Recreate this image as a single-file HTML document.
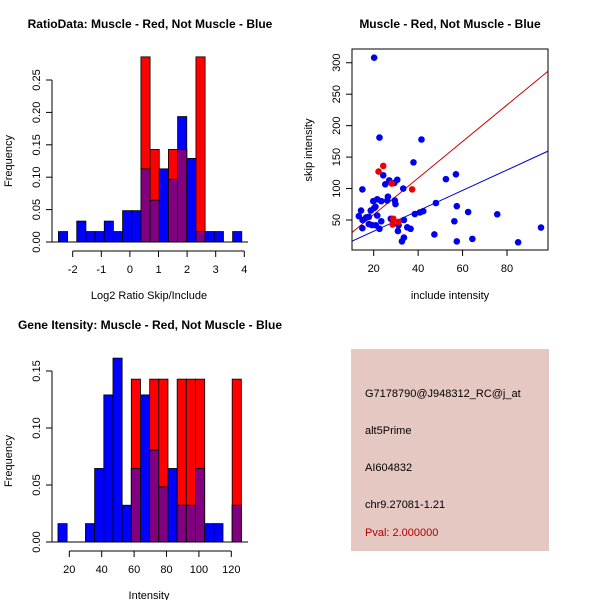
<!DOCTYPE html>
<html><head><meta charset="utf-8"><style>
html,body{margin:0;padding:0;background:#fff;}
svg{display:block;font-family:"Liberation Sans",sans-serif;}
</style></head><body>
<svg id="c" width="600" height="600" xmlns="http://www.w3.org/2000/svg">
<rect width="600" height="600" fill="#fff"/>
<g id="p1"></g>
<g id="p2"></g>
<g id="p3"></g>
<g>
<rect x="351" y="349" width="198" height="202" fill="#e6c8c2"/>
<g font-size="11" fill="#000">
<text x="365" y="397">G7178790@J948312_RC@j_at</text>
<text x="365" y="434">alt5Prime</text>
<text x="365" y="471">AI604832</text>
<text x="365" y="508">chr9.27081-1.21</text>
<text x="365" y="536" fill="#b00000">Pval: 2.000000</text>
</g></g>
</svg>
<script>
// ---- data: ratio histogram ----
const ratioBinStart = -2.5, ratioBinWidth = 0.3206;
const ratioBlue = [1,0,2,1,1,2,1,3,3,7,4,7,6,12,8,1,1,1,0,1].map(c=>c/62);
const ratioRed  = [0,0,0,0,0,0,0,0,0,2,1,0,1,1,0,2,0,0,0,0].map(c=>c/7);
const ratioXTicks = [-2,-1,0,1,2,3,4];
const ratioYTicks = [0,0.05,0.10,0.15,0.20,0.25];
// ---- data: intensity histogram ----
const intBinStart = 13.0, intBinWidth = 5.66;
const intBlue = [1,0,0,1,4,8,10,2,4,8,5,3,4,2,2,4,1,1,0,2].map(c=>c/62);
const intRed  = [0,0,0,0,0,0,0,0,1,0,1,1,0,1,1,1,0,0,0,1].map(c=>c/7);
const intXTicks = [20,40,60,80,100,120];
const intYTicks = [0,0.05,0.10,0.15];
// ---- data: scatter ----
const blueX = [20.2,22.6,41.5,37.9,52.5,57,14.9,24.3,25.2,27,29.3,30.6,33.3,26.4,26.1,23.4,19.8,21.6,29.5,29.8,48,57.4,14.3,20.2,20.8,18.7,13.3,16.6,15,17.8,21.6,38.5,40.8,42.3,62.5,75.6,27.7,33.6,17.8,19.2,21,22.6,23.4,31.2,35.1,36.6,30.9,14.9,56.3,47.3,33.6,32.7,57.4,64.4,85,95.3];
const blueY = [308,181,178,141.6,115,122.6,98.7,121,106.7,113,109,114,100,87,81,80,80,83,81,75.4,77,72,65,69,71,65,56,54,50,55,57,59.5,62,64,62.7,59,52,50,43.6,42,41.5,36,48,41.5,38.3,36,32.5,37,48,27,22,16,16,20,14.5,38];
const redX = [24.3,22.2,37.3,28.1,28.8,28.5,31.2];
const redY = [136,127,98.7,108,52,43,47];
const redFit = [0.45, 2.906];   // intercept, slope
const blueFit = [-0.3, 1.623];
const scXTicks = [20,40,60,80];
const scYTicks = [50,100,150,200,250,300];

const NS="http://www.w3.org/2000/svg";
function mk(parent,tag,attrs,txt){const e=document.createElementNS(NS,tag);for(const k in attrs)e.setAttribute(k,attrs[k]);if(txt!==undefined)e.textContent=txt;parent.appendChild(e);return e;}

function hist(g,o){
  const sx=v=>o.x0+(v-o.xv0)*o.kx, sy=v=>o.y0-v*o.ky;
  for(let i=0;i<o.blue.length;i++){
    const a=o.start+i*o.w, b=a+o.w, bl=o.blue[i], rd=o.red[i];
    const x=sx(a), wpx=sx(b)-sx(a);
    if(bl>0){const r=mk(g,'rect',{x:x,y:sy(bl),width:wpx,height:sy(0)-sy(bl),fill:'#0000ff',stroke:'#000','stroke-width':0.8});
      
      }
    if(rd>0){const r=mk(g,'rect',{x:x,y:sy(rd),width:wpx,height:sy(0)-sy(rd),fill:'#ff0000',stroke:'#000','stroke-width':0.8});
      
      }
    const m=Math.min(bl,rd);
    if(m>0){const r=mk(g,'rect',{x:x,y:sy(m),width:wpx,height:sy(0)-sy(m),fill:'#800080',stroke:'#000','stroke-width':0.8});
      
      }
  }
  mk(g,'line',{x1:52,x2:248,y1:sy(0),y2:sy(0),stroke:'#000','stroke-width':1});
  // y axis
  const ya=mk(g,'g',{});
  
  
  mk(ya,'line',{x1:52,x2:52,y1:sy(o.yt[0]),y2:sy(o.yt[o.yt.length-1]),stroke:'#000'});
  o.yt.forEach(t=>{mk(ya,'line',{x1:46,x2:52,y1:sy(t),y2:sy(t),stroke:'#000'});
    mk(ya,'text',{x:0,y:0,'font-size':11,'text-anchor':'middle',transform:`translate(40,${sy(t)}) rotate(-90)`},t.toFixed(2));});
  const xa=mk(g,'g',{});
  
  
  mk(xa,'line',{x1:sx(o.xt[0]),x2:sx(o.xt[o.xt.length-1]),y1:o.xaxY,y2:o.xaxY,stroke:'#000'});
  o.xt.forEach(t=>{mk(xa,'line',{x1:sx(t),x2:sx(t),y1:o.xaxY,y2:o.xaxY+6,stroke:'#000'});
    mk(xa,'text',{x:sx(t),y:o.xaxY+22,'font-size':11,'text-anchor':'middle'},String(t));});
  const tt=mk(g,'text',{x:150,y:o.titleY,'font-size':12,'font-weight':'bold','text-anchor':'middle'},o.title);
  
  
  const xl=mk(g,'text',{x:149,y:o.xlabY,'font-size':11,'text-anchor':'middle'},o.xlab);
  
  
  const yl=mk(g,'text',{x:0,y:0,'font-size':11,'text-anchor':'middle',transform:`translate(12,${o.ylabC}) rotate(-90)`},'Frequency');
  
  
}
hist(document.getElementById('p1'),{x0:72.7,xv0:-2,kx:28.6,y0:242,ky:648,start:ratioBinStart,w:ratioBinWidth,blue:ratioBlue,red:ratioRed,yt:ratioYTicks,xt:ratioXTicks,xaxY:251,title:'RatioData: Muscle - Red, Not Muscle - Blue',titleY:28,xlab:'Log2 Ratio Skip/Include',xlabY:299,ylabC:161});
hist(document.getElementById('p3'),{x0:69.3,xv0:20,kx:1.62,y0:542,ky:1140,start:intBinStart,w:intBinWidth,blue:intBlue,red:intRed,yt:intYTicks,xt:intXTicks,xaxY:551,title:'Gene Itensity: Muscle - Red, Not Muscle - Blue',titleY:329,xlab:'Intensity',xlabY:599,ylabC:461});

// scatter
(function(){
  const g=document.getElementById('p2');
  const L=352,R=548,T=49,B=250;
  const sx=v=>373.7+(v-20)*2.222, sy=v=>220-(v-50)*0.629;
  const clip=mk(g,'clipPath',{id:'sc'});mk(clip,'rect',{x:L,y:T,width:R-L,height:B-T});
  const xmin=(L-373.7)/2.222+20, xmax=(R-373.7)/2.222+20;
  [[redFit,'#cc0000','red-fit-line'],[blueFit,'#0000cc','blue-fit-line']].forEach(([f,c,n])=>{
    const l=mk(g,'line',{x1:sx(xmin),y1:sy(f[0]+f[1]*xmin),x2:sx(xmax),y2:sy(f[0]+f[1]*xmax),stroke:c,'stroke-width':1,'clip-path':'url(#sc)'});
    
    
  });
  blueX.forEach((x,i)=>{const p=mk(g,'circle',{cx:sx(x),cy:sy(blueY[i]),r:3.3,fill:'#0000ee'});
    
    });
  redX.forEach((x,i)=>{const p=mk(g,'circle',{cx:sx(x),cy:sy(redY[i]),r:3.3,fill:'#ee0000'});
    
    });
  mk(g,'rect',{x:L,y:T,width:R-L,height:B-T,fill:'none',stroke:'#000'});
  scXTicks.forEach(t=>{mk(g,'line',{x1:sx(t),x2:sx(t),y1:B,y2:B+6,stroke:'#000'});
    mk(g,'text',{x:sx(t),y:B+22,'font-size':11,'text-anchor':'middle'},String(t));});
  scYTicks.forEach(t=>{mk(g,'line',{x1:L-6,x2:L,y1:sy(t),y2:sy(t),stroke:'#000'});
    mk(g,'text',{x:0,y:0,'font-size':11,'text-anchor':'middle',transform:`translate(340,${sy(t)}) rotate(-90)`},String(t));});
  const tt=mk(g,'text',{x:450,y:28,'font-size':12,'font-weight':'bold','text-anchor':'middle'},'Muscle - Red, Not Muscle - Blue');
  
  
  const xl=mk(g,'text',{x:450,y:299,'font-size':11,'text-anchor':'middle'},'include intensity');
  
  
  const yl=mk(g,'text',{x:0,y:0,'font-size':11,'text-anchor':'middle',transform:'translate(312,150) rotate(-90)'},'skip intensity');
  
  
})();
</script>
</body></html>
